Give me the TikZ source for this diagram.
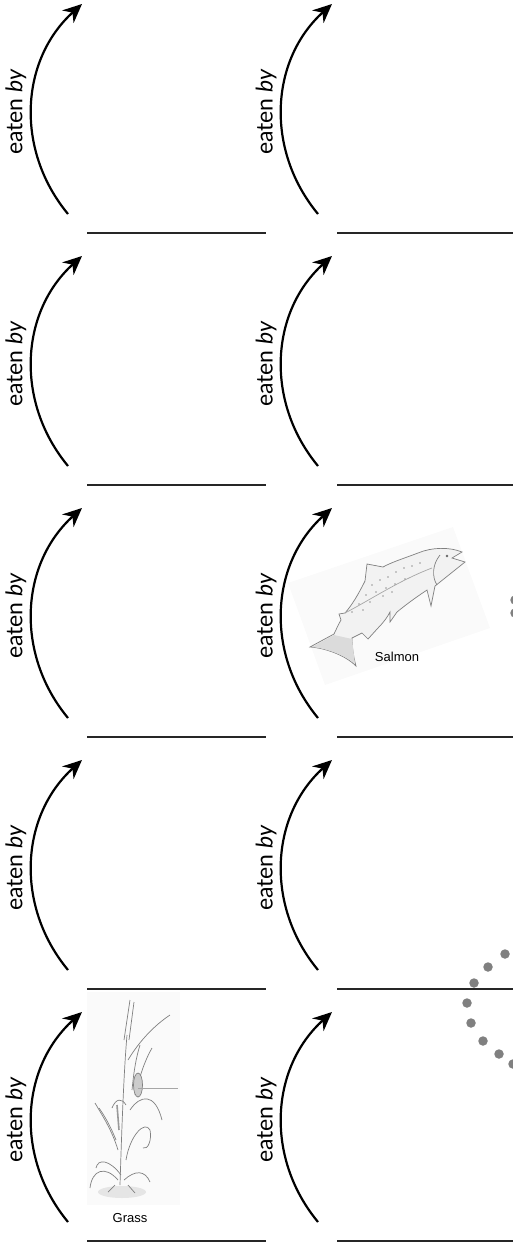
\documentclass[tikz,border=0pt]{standalone}
\usepackage{fontspec}
\setmainfont{Lato}
\newfontfamily\capfont{Liberation Sans}
\usetikzlibrary{arrows.meta}

\begin{document}
\begin{tikzpicture}[x=1pt,y=-1pt,
  eaten/.style={line width=2.2pt,-{Stealth[length=19pt,width=17pt]}},
  blank/.style={line width=1.2pt,black!85},
  eatlabel/.style={rotate=90,font=\fontsize{23}{23}\selectfont},
  caption/.style={font=\capfont\fontsize{13}{13}\selectfont},
  dot/.style={circle,fill=black!50,inner sep=0pt,minimum size=9.5pt},
  sketch/.style={draw=black!50,line width=0.7pt}]
\useasboundingbox (0,0) rectangle (513,1245);

% two columns of five "eaten by" steps
\foreach \r in {0,...,4}
  \foreach \c in {0,1} {
    \coordinate (s-\r-\c) at (68+250*\c,214+252*\r);
    \coordinate (e-\r-\c) at (82+250*\c,4+252*\r);
    \coordinate (b-\r-\c) at (87+250*\c,233+252*\r);
    \draw[eaten] (s-\r-\c) .. controls +(-53,-64) and +(-62,56) .. (e-\r-\c);
    \node[eatlabel] (l-\r-\c) at (16+250*\c,112+252*\r) {eaten \textit{by}};
    \draw[blank] (b-\r-\c) -- ++(179,0);
  }

% salmon
\fill[black!2] (288,583) -- (453,527) -- (490,628) -- (325,685) -- cycle;
\draw[sketch,fill=black!5] (462,552) .. controls (450,547) and (432,547) .. (418,553)
  .. controls (405,558) and (392,562) .. (383,567) -- (367,564) -- (365,581)
  .. controls (358,595) and (352,605) .. (345,613) -- (339,614) -- (341,620)
  .. controls (338,625) and (336,630) .. (334,634) -- (310,647)
  .. controls (325,648) and (345,655) .. (356,666)
  .. controls (353,655) and (352,645) .. (352,638) -- (362,633) -- (368,639) -- (378,628)
  .. controls (384,622) and (388,616) .. (390,612) -- (390,622) -- (397,612)
  .. controls (408,603) and (418,596) .. (427,590) -- (431,606) -- (435,586)
  .. controls (445,578) and (455,570) .. (465,562) -- (452,558) -- cycle;
\draw[sketch] (440,555) .. controls (432,565) and (432,577) .. (437,585);
\draw[sketch,black!35] (345,613) .. controls (370,600) and (400,580) .. (432,568);
\fill[black!60] (447,556) circle (1.4);
\foreach \x/\y in {372/585,380/580,388/577,396/572,404/568,412/566,366/595,
                   376/592,386/588,395/584,405/579,359/604,370/602,352/612,
                   420/563,383/596,392/592,363/610}
  \fill[black!40] (\x,\y) circle (0.9);
\fill[black!14] (312,647) -- (334,635) -- (352,639) -- (355,664)
  .. controls (345,655) and (325,648) .. (312,647);
\node[caption] (salmon) at (397,657) {Salmon};

% grass
\fill[black!2] (87,992) rectangle (180,1205);
\fill[black!10] (122,1192) ellipse (24 and 6);
\draw[sketch] (120,1185) .. controls (122,1120) and (124,1070) .. (127,1035);
\draw[sketch] (124,1040) -- (130,1000) (129,1040) -- (134,1002);
\draw[sketch] (128,1060) .. controls (140,1040) and (155,1025) .. (170,1015);
\draw[sketch] (135,1095) .. controls (140,1075) and (145,1060) .. (152,1048);
\draw[sketch] (132,1090) .. controls (134,1070) and (136,1058) .. (140,1045);
\draw[sketch,fill=black!20] (138,1085) ellipse (4.5 and 12);
\draw[sketch,black!35] (138,1088) -- (178,1088);
\draw[sketch] (130,1110) .. controls (140,1095) and (155,1092) .. (162,1120);
\draw[sketch] (126,1105) .. controls (122,1098) and (116,1098) .. (112,1108);
\draw[sketch] (118,1150) .. controls (112,1130) and (102,1115) .. (95,1103);
\draw[sketch] (116,1140) .. controls (110,1125) and (104,1115) .. (99,1108);
\draw[sketch,line width=1.6pt,black!40] (117,1105) -- (119,1130);
\draw[sketch] (126,1160) .. controls (130,1135) and (145,1120) .. (150,1130)
  .. controls (152,1140) and (148,1150) .. (143,1148);
\draw[sketch] (118,1180) .. controls (105,1165) and (92,1170) .. (90,1188);
\draw[sketch] (124,1180) .. controls (135,1170) and (145,1170) .. (150,1182);
\draw[sketch] (121,1175) .. controls (110,1160) and (98,1158) .. (96,1168);
\draw[sketch] (108,1192) -- (115,1185) (135,1193) -- (128,1185);
\node[caption] (grass) at (130,1218) {Grass};

% dots
\foreach \x/\y [count=\i] in {505/954,488/967,474/983,467/1003,471/1023,
                             483/1041,499/1054,513/1064,515/600,515/613}
  \node[dot] (d\i) at (\x,\y) {};
\end{tikzpicture}
\end{document}
